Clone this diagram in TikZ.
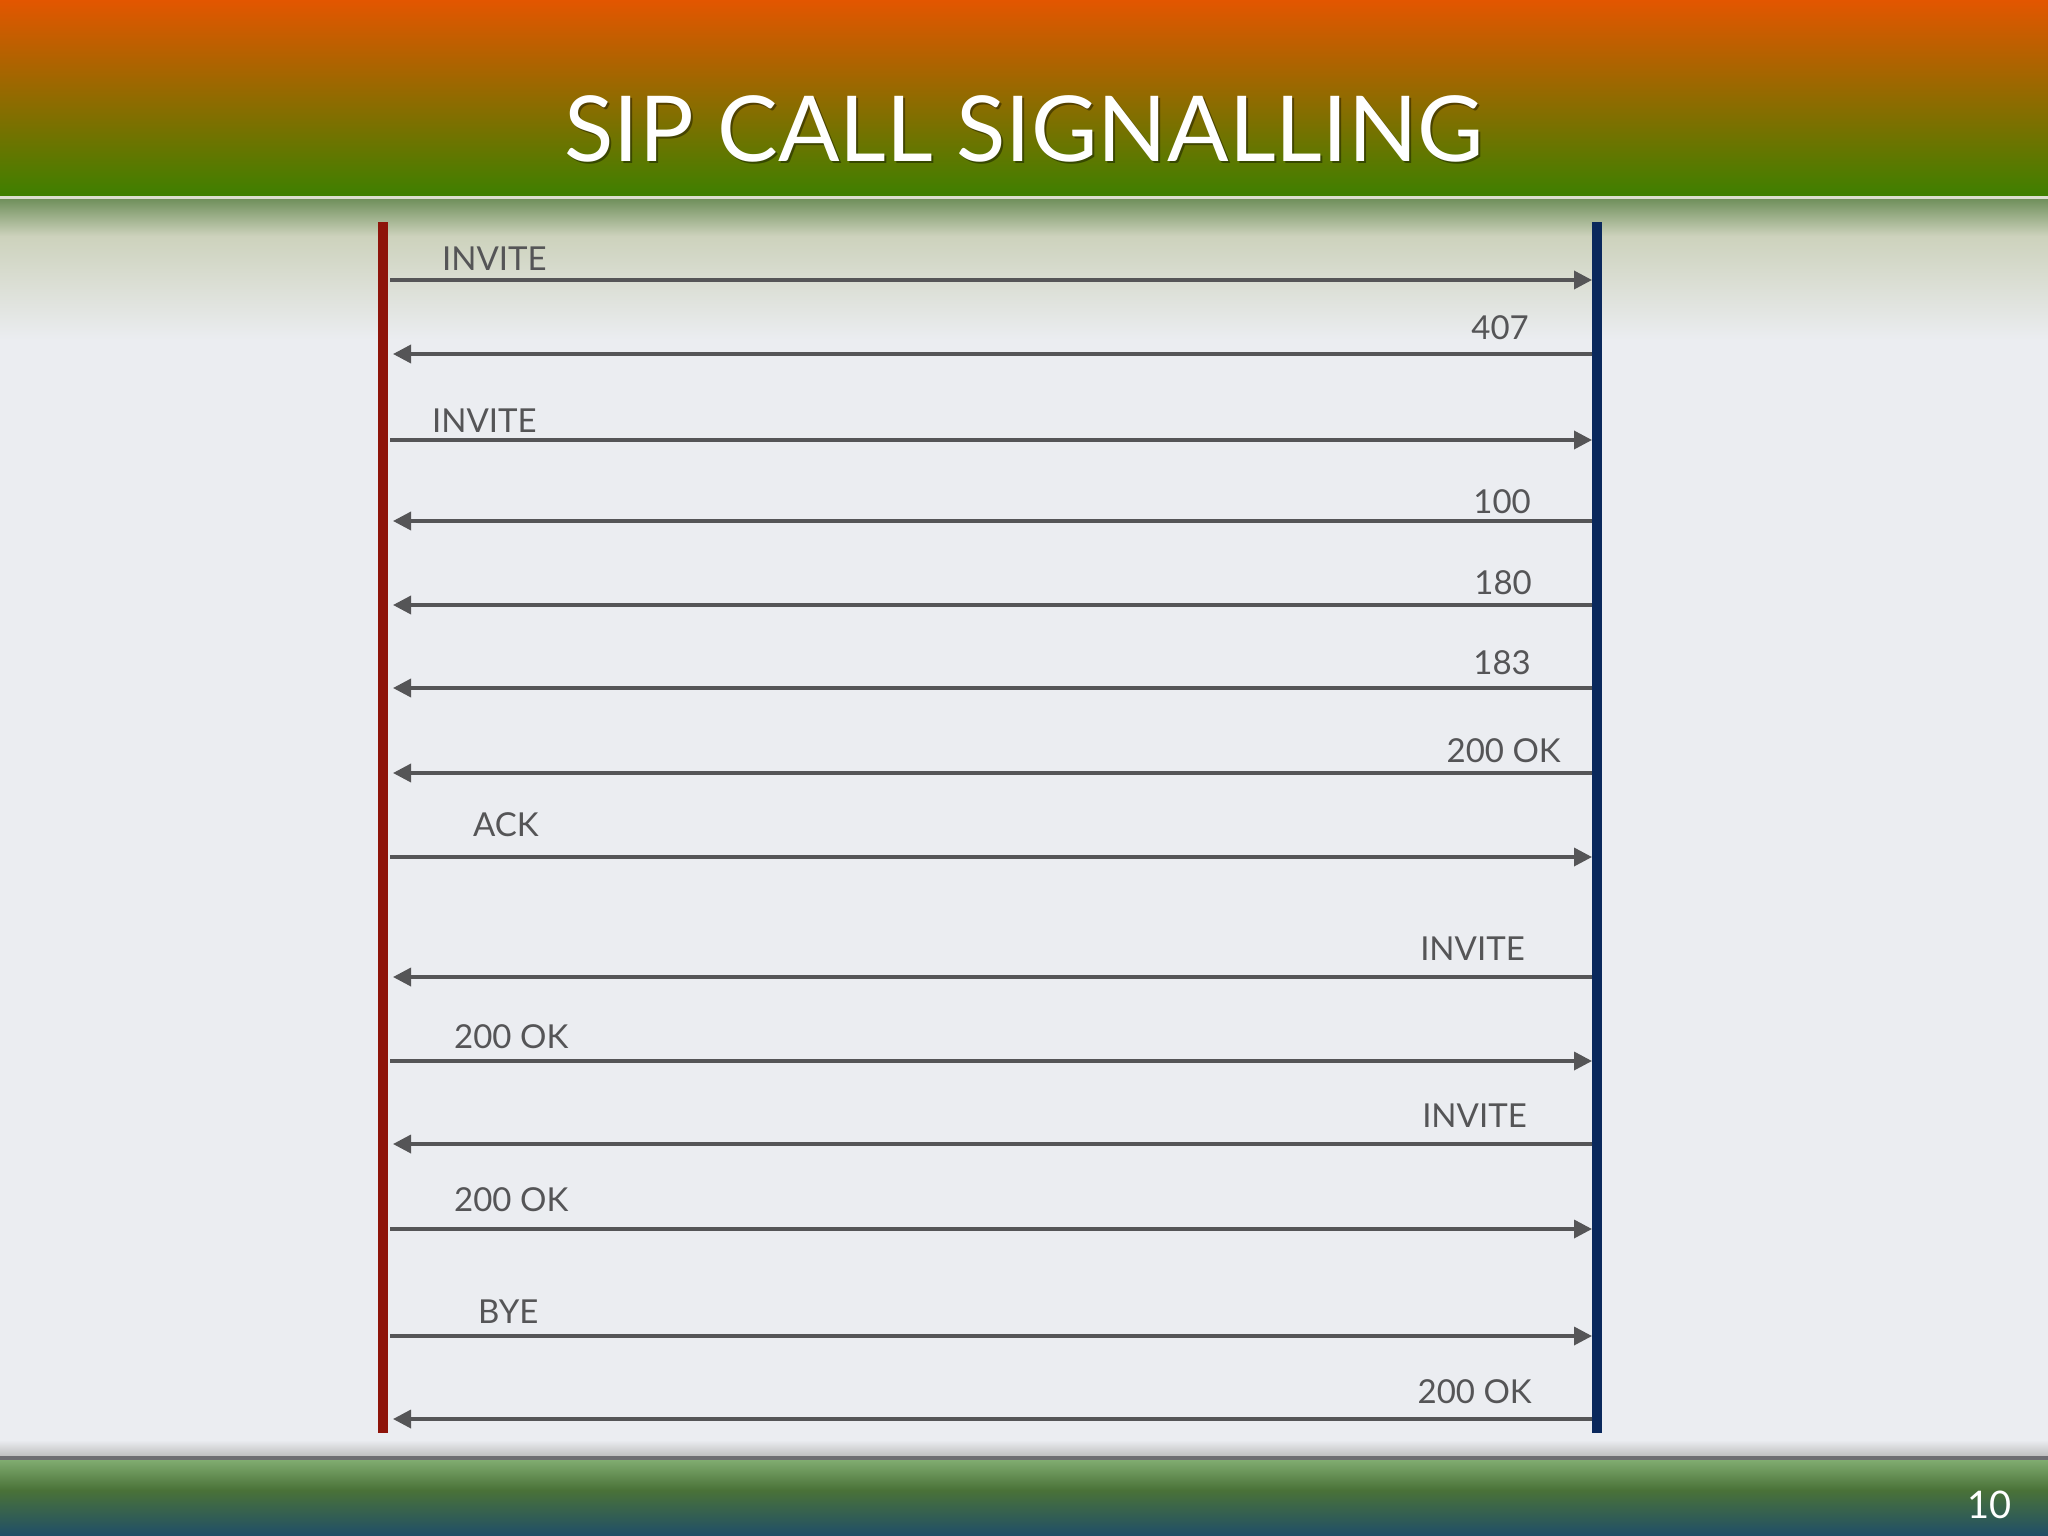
\documentclass[tikz,border=0pt]{standalone}
\usepackage{fontspec}
\setmainfont{Lato}
\usetikzlibrary{arrows.meta}

\definecolor{bannertop}{RGB}{227,86,0}
\definecolor{bannerbot}{RGB}{62,128,0}
\definecolor{slidebg}{RGB}{235,237,241}
\definecolor{shadegreen}{RGB}{112,144,92}
\definecolor{shadetan}{RGB}{205,210,188}
\definecolor{footline}{RGB}{110,110,114}
\definecolor{foottop}{RGB}{128,172,112}
\definecolor{footmid}{RGB}{74,114,56}
\definecolor{footbot}{RGB}{32,78,104}
\definecolor{msggray}{RGB}{85,85,87}
\definecolor{callerred}{RGB}{142,20,10}
\definecolor{calleeblue}{RGB}{10,40,92}

\tikzset{
  msg/.style={draw=msggray,line width=3.5pt,-{Triangle[length=18pt,width=18pt]}},
  msglabel/.style={text=msggray,inner sep=0pt,font=\fontsize{33}{40}\selectfont},
  lifeline/.style={line width=10pt},
}

\begin{document}
\begin{tikzpicture}[x=1pt,y=-1pt]
\useasboundingbox (0,0) rectangle (2048,1536);
% slide background, banner and footer
\fill[slidebg] (0,0) rectangle (2048,1536);
\shade[top color=bannertop,bottom color=bannerbot] (0,0) rectangle (2048,196);
\fill[shadetan!70!white] (0,196) rectangle (2048,199);
\shade[top color=shadegreen,bottom color=shadetan] (0,199) rectangle (2048,236);
\shade[top color=shadetan,bottom color=slidebg] (0,236) rectangle (2048,340);
\shade[top color=slidebg,bottom color=black!25] (0,1440) rectangle (2048,1456);
\fill[footline] (0,1456) rectangle (2048,1460);
\shade[top color=foottop,bottom color=footmid] (0,1460) rectangle (2048,1490);
\shade[top color=footmid,bottom color=footbot] (0,1490) rectangle (2048,1536);

\node[anchor=base,text=black,opacity=0.4,font=\fontsize{91}{100}\selectfont] (titleshadow) at (1026,164) {SIP CALL SIGNALLING};
\node[anchor=base,text=white,font=\fontsize{91}{100}\selectfont] (title) at (1024,161) {SIP CALL SIGNALLING};
\node[anchor=base east,text=white,inner sep=0pt,font=\fontsize{38}{40}\selectfont] (pageno) at (2012,1518) {10};

% messages caller -> callee
\foreach \n/\y/\lx/\bl/\txt in {1/280/442/270/INVITE,3/440/432/432/INVITE,8/857/473/836/ACK,
    10/1061/454/1048/200 OK,12/1229/454/1211/200 OK,13/1336/478/1323/BYE}{
  \coordinate (s\n) at (390,\y);
  \coordinate (e\n) at (1592,\y);
  \draw[msg] (s\n) -- (e\n);
  \node[msglabel,anchor=base west] (t\n) at (\lx,\bl) {\txt};
}
% messages callee -> caller
\foreach \n/\y/\rx/\bl/\txt in {2/354/1529/339/407,4/521/1531/513/100,5/605/1532/594/180,
    6/688/1531/674/183,7/773/1561/762/200 OK,9/977/1525/960/INVITE,
    11/1144/1527/1127/INVITE,14/1419/1532/1403/200 OK}{
  \coordinate (s\n) at (1596,\y);
  \coordinate (e\n) at (393,\y);
  \draw[msg] (s\n) -- (e\n);
  \node[msglabel,anchor=base east] (t\n) at (\rx,\bl) {\txt};
}

% lifelines
\coordinate (callertop) at (383,222);
\coordinate (callerbot) at (383,1433);
\coordinate (calleetop) at (1597,222);
\coordinate (calleebot) at (1597,1433);
\draw[lifeline,callerred] (callertop) -- (callerbot);
\draw[lifeline,calleeblue] (calleetop) -- (calleebot);
\end{tikzpicture}
\end{document}
